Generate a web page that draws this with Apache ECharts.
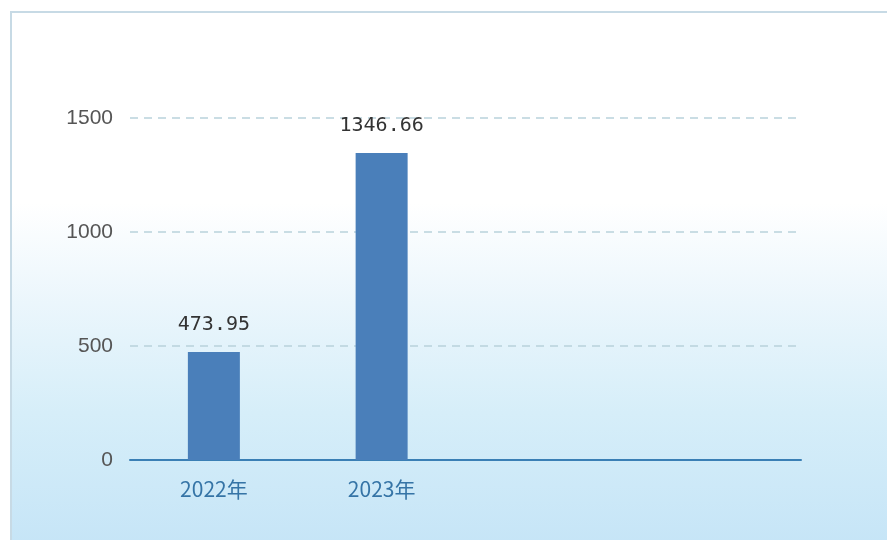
<!DOCTYPE html>
<html><head><meta charset="utf-8">
<script src="https://cdn.jsdelivr.net/npm/echarts@6/dist/echarts.min.js"></script>
<style>
html,body{margin:0;padding:0;width:887px;height:540px;overflow:hidden;background:#fff;}
#frame{position:absolute;left:10px;top:11px;width:900px;height:560px;border:2px solid #c7dae5;
background:linear-gradient(to bottom,#ffffff 0px,#ffffff 190px,#ebf6fc 290px,#d6eef9 400px,#c6e5f7 530px);}
#c{position:absolute;left:0;top:0;width:887px;height:540px;}
</style></head>
<body><div id="frame"></div><div id="c"></div>
<script>
const categories = ['2022年', '2023年', '', ''];
const values = [473.95, 1346.66, null, null];
const yTicks = [0, 500, 1000, 1500];

const chart = echarts.init(document.getElementById('c'), null, {renderer: 'canvas'});
chart.setOption({
  backgroundColor: 'transparent',
  animation: false,
  grid: {left: 130, right: 86, top: 118, bottom: 80, containLabel: false},
  xAxis: {
    type: 'category', data: categories,
    axisLine: {show: true, lineStyle: {color: '#3a7fb5', width: 2}},
    axisTick: {show: false},
    axisLabel: {color: '#3574a6', fontSize: 21, margin: 19, fontFamily: 'Noto Sans CJK SC'}
  },
  yAxis: {
    type: 'value', min: yTicks[0], max: yTicks[yTicks.length - 1], interval: 500,
    axisLine: {show: false}, axisTick: {show: false},
    axisLabel: {color: '#555', fontSize: 21, margin: 17, fontFamily: 'Liberation Sans',
      formatter: v => String(v)},
    splitLine: {show: true, lineStyle: {color: '#b9d2dc', type: [8, 6], width: 1.5}}
  },
  series: [{
    type: 'bar', data: values, barWidth: 52,
    itemStyle: {color: '#4a7fba'},
    label: {show: true, position: 'top', distance: 17, color: '#333', fontSize: 20,
      fontFamily: 'DejaVu Sans Mono',
      formatter: p => p.value == null ? '' : String(p.value)}
  }]
});
</script></body></html>
